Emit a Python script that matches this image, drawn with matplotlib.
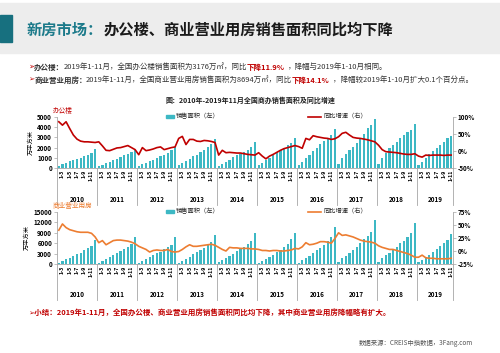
import numpy as np
import matplotlib
matplotlib.use('Agg')
import matplotlib.pyplot as plt
import matplotlib.transforms as mtransforms
from matplotlib.patches import Rectangle
from matplotlib.lines import Line2D

plt.rcParams['font.family'] = ['Noto Sans CJK SC', 'DejaVu Sans']

years = ['2010', '2011', '2012', '2013', '2014', '2015', '2016', '2017', '2018', '2019']
months = ['1-2', '1-3', '1-4', '1-5', '1-6', '1-7', '1-8', '1-9', '1-10', '1-11', '1-12']
shown = ['1-3', '1-5', '1-7', '1-9', '1-11']

# 办公楼 cumulative sales area (万平方米), one row per year
office_area = [
    200, 360, 490, 660, 760, 860, 990, 1150, 1320, 1510, 1880,
    200, 330, 490, 590, 760, 920, 1050, 1250, 1410, 1580, 1800,
    200, 360, 490, 660, 820, 990, 1150, 1320, 1510, 1740, 2100,
    260, 490, 660, 920, 1150, 1320, 1580, 1810, 2070, 2400, 2850,
    200, 430, 600, 820, 1090, 1250, 1400, 1600, 1800, 2100, 2550,
    290, 520, 780, 1010, 1270, 1540, 1760, 1990, 2250, 2420, 2970,
    300, 620, 950, 1300, 1650, 2000, 2350, 2650, 2950, 3250, 3850,
    360, 950, 1340, 1760, 2090, 2420, 2900, 3300, 3890, 4220, 4770,
    360, 950, 1440, 1930, 2250, 2580, 2910, 3240, 3560, 3730, 4350,
    290, 620, 950, 1340, 1670, 1990, 2250, 2580, 2910, 3176,
]
# 办公楼 YoY growth (%)
office_yoy = [
    86, 76, 86, 66, 47, 35, 29, 27, 27, 26, 25,
    27, 15, 2, 1, 5, 9, 10, 13, 16, 10, 4,
    -11, 10, 1, 3, 6, 10, 12, 4, 7, 10, 12,
    37, 43, 19, 34, 34, 29, 28, 31, 30, 28, 25,
    -12, 2, -5, -4, -5, -6, -6, -8, -10, -11, -12,
    -5, -15, -23, -15, -10, -4, 2, 7, 10, 13, 16,
    13, 8, 37, 33, 45, 42, 40, 38, 37, 34, 36,
    42, 52, 55, 47, 40, 38, 37, 35, 33, 30, 27,
    17, 4, -2, -3, -4, -5, -7, -9, -10, -10, -8,
    -15, -18, -12, -13, -12, -12, -12, -13, -12, -12,
]
# 商业营业用房 cumulative sales area (万平方米)
shop_area = [
    390, 870, 1350, 1840, 2320, 2810, 3290, 3900, 4500, 5200, 7000,
    380, 950, 1450, 2000, 2600, 3150, 3700, 4300, 4900, 5700, 7800,
    350, 900, 1400, 1950, 2500, 3050, 3600, 4200, 4850, 5600, 7700,
    400, 1000, 1550, 2150, 2800, 3400, 4000, 4700, 5400, 6300, 8450,
    450, 1050, 1650, 2300, 3000, 3650, 4300, 5000, 5800, 6600, 8900,
    400, 900, 1450, 2050, 2700, 3350, 4050, 4800, 5700, 7300, 9000,
    420, 1150, 1750, 2450, 3250, 4000, 4750, 5600, 6500, 7700, 10600,
    670, 1630, 2300, 3270, 4040, 5000, 5960, 7120, 8080, 9330, 12800,
    670, 1630, 2600, 3270, 4230, 5000, 5960, 6730, 7690, 8850, 11900,
    450, 1200, 1950, 2700, 3550, 4350, 5150, 6000, 6900, 8694,
]
# 商业营业用房 YoY growth (%)
shop_yoy = [
    40, 52, 45, 41, 39, 37, 36, 36, 36, 34, 27,
    16, 20, 12, 16, 20, 21, 21, 20, 19, 17, 14,
    9, 6, 3, -2, 1, 2, 1, 1, 3, -1, -2,
    -1, 3, 8, 12, 9, 9, 10, 11, 12, 13, 11,
    7, 3, 0, 7, 6, 6, 5, 5, 5, 4, 4,
    3, 1, 1, 0, 1, 1, 0, 0, 1, 2, 5,
    4, 8, 16, 12, 13, 15, 18, 18, 17, 15, 24,
    35, 30, 31, 29, 27, 24, 21, 19, 18, 17, 15,
    10, 7, 5, 3, 3, 1, -1, -3, -5, -8, -12,
    -12, -8, -13, -14, -14, -15, -15, -15, -15, -14,
]

labels = []
bounds = [-0.5]
for y in years:
    ms = months if y != '2019' else months[:-1]
    labels += ms
    bounds.append(len(labels) - 0.5)
x = np.arange(len(labels))

W, H = 500, 353
fig = plt.figure(figsize=(W / 100, H / 100), dpi=100)
renderer = fig.canvas.get_renderer()


def fx(px):
    return px / W


def fy(py):
    return 1 - py / H


def rich(px, py, parts, size):
    # lay text pieces one after another; each piece carries its own gap (px)
    xx = fx(px)
    for s, c, w, gap in parts:
        t = fig.text(xx, fy(py), s, color=c, fontsize=size, fontweight=w, va='center', ha='left')
        bb = t.get_window_extent(renderer)
        xx = (bb.x1 + gap) / fig.bbox.width


# header band
fig.add_artist(Rectangle((0, fy(53)), 1, 50 / H, transform=fig.transFigure, color='#EDEDED', zorder=0))
fig.add_artist(Rectangle((0, fy(42)), 12 / W, 27 / H, transform=fig.transFigure, color='#17707F', zorder=1))
rich(27, 30, [('新房市场：', '#1C7A8A', 'bold', 0), ('办公楼、商业营业用房销售面积同比均下降', '#1A1A1A', 'bold', 0)], 11)

red = '#C00000'
dark = '#333333'
rich(28, 67, [('➢', red, 'normal', 0), ('办公楼：', dark, 'bold', -1),
              ('2019年1-11月，全国办公楼销售面积为3176万㎡，同比', dark, 'normal', 0),
              ('下降11.9%', red, 'bold', 3), ('，降幅与2019年1-10月相同。', dark, 'normal', 0)], 5.45)
rich(28, 80, [('➢', red, 'normal', 0), ('商业营业用房：', dark, 'bold', -1),
              ('2019年1-11月，全国商业营业用房销售面积为8694万㎡，同比', dark, 'normal', 0),
              ('下降14.1%', red, 'bold', 3), ('，降幅较2019年1-10月扩大0.1个百分点。', dark, 'normal', 0)], 5.4)
fig.text(0.5, fy(100), '图：2010年-2019年11月全国商办销售面积及同比增速', fontsize=5,
         fontweight='bold', ha='center', va='center', color='#222222')

fig.text(fx(28), fy(312), '➢小结：2019年1-11月，全国办公楼、商业营业用房销售面积同比均下降，其中商业营业用房降幅略有扩大。',
         color=red, fontsize=5.4, fontweight='bold', ha='left', va='center')
fig.text(fx(473), fy(343), '数据来源：CREIS中指数据，3Fang.com', fontsize=4.6, color='#555555', ha='right', va='center')

bar_color = '#3DB8C4'
grey = '#A6A6A6'


def panel(top, bottom, area, yoy, lcolor, ymax, ystep, rlim, rticks, name, sep_depth, year_y):
    ax = fig.add_axes([fx(57), fy(bottom), fx(453) - fx(57), (bottom - top) / H])
    ax.bar(x, area, width=0.6, color=bar_color, zorder=2)
    ax.set_xlim(-0.5, len(labels) - 0.5)
    ax.set_ylim(0, ymax)
    ax.set_yticks(np.arange(0, ymax + 1, ystep))
    ax.set_yticklabels([str(int(v)) for v in np.arange(0, ymax + 1, ystep)], fontsize=4.5, fontweight='bold')
    ax.set_xticks(x)
    ax.set_xticklabels([l if l in shown else '' for l in labels], rotation=90, fontsize=3.8, fontweight='bold')
    ax.tick_params(axis='x', length=0, pad=1.5)
    ax.tick_params(axis='y', length=2, width=0.5, pad=1.5, color=grey)
    for s in ['top', 'right']:
        ax.spines[s].set_visible(False)
    for s in ['left', 'bottom']:
        ax.spines[s].set_color(grey)
        ax.spines[s].set_linewidth(0.6)
    ax.set_ylabel('万平方米', fontsize=4.5, labelpad=2)

    ax2 = ax.twinx()
    ax2.plot(x, yoy, color=lcolor, lw=1.2, zorder=3)
    ax2.set_ylim(*rlim)
    ax2.set_yticks(rticks)
    ax2.set_yticklabels(['%d%%' % v for v in rticks], fontsize=4.5, fontweight='bold')
    ax2.tick_params(axis='y', length=2, width=0.5, pad=1.5, color=grey)
    for s in ['top', 'left', 'bottom']:
        ax2.spines[s].set_visible(False)
    ax2.spines['right'].set_color(grey)
    ax2.spines['right'].set_linewidth(0.6)

    trans = mtransforms.blended_transform_factory(ax.transData, ax.transAxes)
    for b in bounds:
        ax.plot([b, b], [0, sep_depth], transform=trans, color=grey, lw=0.6, clip_on=False)
    for i, yname in enumerate(years):
        ax.text((bounds[i] + bounds[i + 1]) / 2, year_y, yname, transform=trans,
                ha='center', va='center', fontsize=4.5, fontweight='bold')

    # name tag and legend
    fig.text(fx(53), fy(top - 6), name, color=lcolor, fontsize=4.8, ha='left', va='center')
    fig.add_artist(Rectangle((fx(166), fy(top + 1)), 8 / W, 3 / H, transform=fig.transFigure, color=bar_color))
    fig.text(fx(176), fy(top - 0.5), '销售面积（左）', fontsize=4.5, ha='left', va='center', color='#222222')
    fig.add_artist(Line2D([fx(308), fx(321)], [fy(top - 0.5), fy(top - 0.5)], transform=fig.transFigure,
                          color=lcolor, lw=1.2))
    fig.text(fx(323), fy(top - 0.5), '同比增速（右）', fontsize=4.5, ha='left', va='center', color='#222222')
    return ax


panel(117, 168, office_area, office_yoy, '#C00000', 5000, 1000, (-50, 100), [-50, 0, 50, 100],
      '办公楼', -0.72, -0.61)
panel(212, 264, shop_area, shop_yoy, '#ED7D31', 15000, 3000, (-25, 75), [-25, 0, 25, 50, 75],
      '商业营业用房', -0.7, -0.58)

fig.savefig('out.png', dpi=100)
